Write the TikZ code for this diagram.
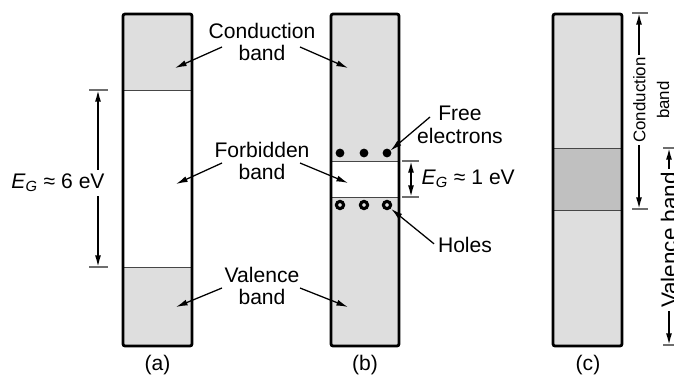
\documentclass[tikz,border=0pt]{standalone}
\usepackage{fontspec}
\setmainfont{Liberation Sans}
\usetikzlibrary{arrows.meta}

\definecolor{bandgray}{RGB}{222,222,222}
\definecolor{overlapgray}{RGB}{192,192,192}
\definecolor{tickgray}{RGB}{110,110,110}
\definecolor{edgegray}{RGB}{70,70,70}

\begin{document}
\begin{tikzpicture}[>={Latex[length=2.9mm,width=1.5mm]},
    lbl/.style={align=center, font=\fontsize{15pt}{16.3pt}\selectfont, inner sep=1pt},
    pointer/.style={->, line width=0.9pt},
    dim/.style={<->, line width=1.2pt},
    tick/.style={draw=tickgray, line width=0.8pt},
    frame/.style={line width=2pt, rounded corners=1.5pt},
    sep/.style={draw=edgegray, line width=0.7pt}]
\useasboundingbox (0,0) rectangle (16.85,9.425);

% Panel (a): insulator
\fill[bandgray] (3.075,0.775) rectangle (4.8,9.075);
\fill[white] (3.075,2.75) rectangle (4.8,7.175);
\draw[sep] (3.075,7.175) -- (4.8,7.175);
\draw[sep] (3.075,2.75) -- (4.8,2.75);
\draw[frame] (3.075,0.775) rectangle (4.8,9.075);
\node[lbl] (capa) at (3.94,0.3) {(a)};

% E_G for (a)
\coordinate (gaptopa) at (2.45,7.175);
\coordinate (gapbota) at (2.45,2.75);
\draw[tick] (2.225,7.175) -- (2.7,7.175);
\draw[tick] (2.225,2.75) -- (2.7,2.75);
\draw[dim] (gaptopa) -- (gapbota);
\node[lbl, fill=white, inner sep=3pt] (ega) at (1.45,4.85) {\textit{E}\textsubscript{\textit{G}} ≈ 6 eV};

% Panel (b): semiconductor
\fill[bandgray] (8.275,0.775) rectangle (9.975,9.075);
\fill[white] (8.275,4.5) rectangle (9.975,5.4);
\draw[sep] (8.275,5.4) -- (9.975,5.4);
\draw[sep] (8.275,4.5) -- (9.975,4.5);
\draw[frame] (8.275,0.775) rectangle (9.975,9.075);
\node[lbl] (capb) at (9.125,0.3) {(b)};

% electrons and holes
\foreach \x [count=\i] in {8.5,9.1,9.675} {
  \fill (\x,5.6) circle (0.11) coordinate (el\i);
  \draw[line width=2.2pt] (\x,4.3) circle (0.09) coordinate (ho\i);
}

% E_G for (b)
\coordinate (gaptopb) at (10.275,5.4);
\coordinate (gapbotb) at (10.275,4.5);
\draw[tick] (10.05,5.4) -- (10.475,5.4);
\draw[tick] (10.05,4.5) -- (10.475,4.5);
\draw[dim] (gaptopb) -- (gapbotb);
\node[lbl, anchor=west] (egb) at (10.5,4.95) {\textit{E}\textsubscript{\textit{G}} ≈ 1 eV};

% Labels between (a) and (b)
\node[lbl] (cb) at (6.55,8.375) {Conduction\\band};
\node[lbl] (fb) at (6.55,5.4) {Forbidden\\band};
\node[lbl] (vb) at (6.55,2.275) {Valence\\band};

\coordinate (cbl) at (5.55,8.25);
\coordinate (cbr) at (7.5,8.25);
\coordinate (fbl) at (5.55,5.35);
\coordinate (fbr) at (7.5,5.35);
\coordinate (vbl) at (5.55,2.225);
\coordinate (vbr) at (7.5,2.225);
\coordinate (acb) at (4.375,7.725);
\coordinate (bcb) at (8.7,7.725);
\coordinate (afb) at (4.4,4.825);
\coordinate (bfb) at (8.7,4.85);
\coordinate (avb) at (4.4,1.75);
\coordinate (bvb) at (8.7,1.75);

\draw[pointer] (cbl) -- (acb);
\draw[pointer] (cbr) -- (bcb);
\draw[pointer] (fbl) -- (afb);
\draw[pointer] (fbr) -- (bfb);
\draw[pointer] (vbl) -- (avb);
\draw[pointer] (vbr) -- (bvb);

% Free electrons / holes
\node[lbl] (free) at (11.5,6.3) {Free\\electrons};
\node[lbl] (holes) at (11.625,3.3) {Holes};
\coordinate (freel) at (10.75,6.5);
\coordinate (holesl) at (10.85,3.33);
\draw[pointer] (freel) -- (9.76,5.66);
\draw[pointer] (holesl) -- (9.78,4.2);

% Panel (c): conductor
\fill[bandgray] (13.825,0.775) rectangle (15.55,9.075);
\fill[overlapgray] (13.825,4.175) rectangle (15.55,5.725);
\draw[sep] (13.825,5.725) -- (15.55,5.725);
\draw[sep] (13.825,4.175) -- (15.55,4.175);
\draw[frame] (13.825,0.775) rectangle (15.55,9.075);
\node[lbl] (capc) at (14.7,0.3) {(c)};

% band extents for (c)
\coordinate (cbtop) at (15.975,9.1);
\coordinate (cbbot) at (15.975,4.2);
\coordinate (vbtop) at (16.725,5.725);
\coordinate (vbbot) at (16.725,0.8);
\draw[tick] (15.8,9.1) -- (16.2,9.1);
\draw[tick] (15.8,4.2) -- (16.2,4.2);
\draw[tick] (16.575,5.725) -- (16.9,5.725);
\draw[tick] (16.575,0.8) -- (16.9,0.8);
\draw[dim] (cbtop) -- (cbbot);
\draw[dim] (vbtop) -- (vbbot);
\node[lbl, rotate=90, fill=white, inner sep=2pt, font=\fontsize{12pt}{17pt}\selectfont]
  (cbc) at (16.28,6.925) {Conduction\\band};
\node[lbl, rotate=90, fill=white, inner sep=2pt, font=\fontsize{16pt}{18pt}\selectfont]
  (vbc) at (16.725,3.425) {Valence band};
\end{tikzpicture}
\end{document}
